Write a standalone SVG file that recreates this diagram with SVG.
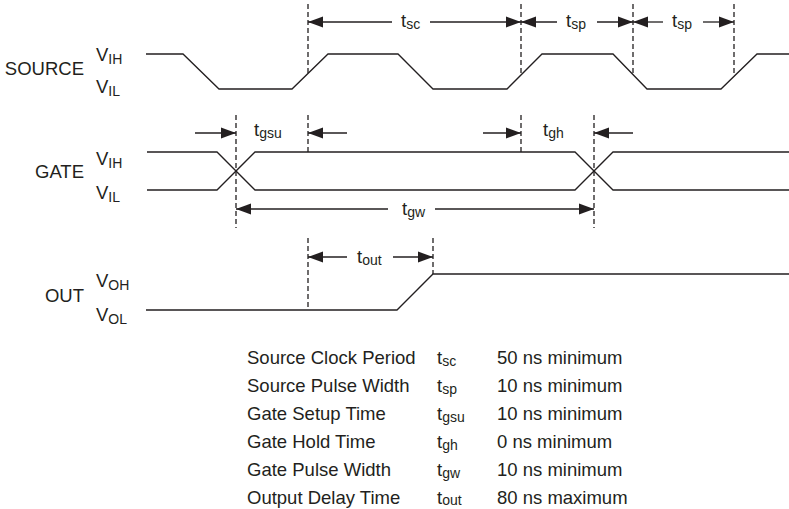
<svg xmlns="http://www.w3.org/2000/svg" width="789" height="509" viewBox="0 0 789 509">
<style>
.w{fill:none;stroke:#231f20;stroke-width:1.3}
.d{fill:none;stroke:#231f20;stroke-width:1.3;stroke-dasharray:5,3}
.a{fill:none;stroke:#231f20;stroke-width:1.3;marker-end:url(#ah)}
text{font-family:"Liberation Sans",Arial,sans-serif;font-size:18.5px;fill:#231f20}
.s{font-size:14px}
.e{text-anchor:end}
</style>
<defs>
<marker id="ah" markerUnits="userSpaceOnUse" markerWidth="16" markerHeight="12" refX="15" refY="6" orient="auto">
<path d="M0,0.5 L15,6 L0,11.5 z" fill="#231f20"/>
</marker>
</defs>
<rect width="789" height="509" fill="#fff"/>
<g id="source">
<text class="e" x="84" y="75">SOURCE</text>
<text x="96" y="61">V<tspan class="s" dy="3">IH</tspan></text>
<text x="96" y="93">V<tspan class="s" dy="3">IL</tspan></text>
<path class="w" d="M146,54 H183 L219,89 H292 L328,54 H398 L433,89 H507 L542,54 H613 L647,89 H721 L757,54 H789"/>
</g>
<g id="gate">
<text class="e" x="84" y="178">GATE</text>
<text x="96" y="165">V<tspan class="s" dy="3">IH</tspan></text>
<text x="96" y="199">V<tspan class="s" dy="3">IL</tspan></text>
<path class="w" d="M147,152 H217 L255,190 H575 L613,152 H789"/>
<path class="w" d="M147,190 H217 L255,152 H575 L613,190 H789"/>
</g>
<g id="out">
<text class="e" x="84" y="302">OUT</text>
<text x="96" y="287">V<tspan class="s" dy="3">OH</tspan></text>
<text x="96" y="321">V<tspan class="s" dy="3">OL</tspan></text>
<path class="w" d="M146,310 H397 L433,274 H789"/>
</g>
<g id="connectors">
<path class="d" d="M308,4 V73"/>
<path class="d" d="M521,4 V75"/>
<path class="d" d="M633,4 V75"/>
<path class="d" d="M734,4 V76"/>
<path class="d" d="M236,115 V228"/>
<path class="d" d="M308,115 V152"/>
<path class="d" d="M521,115 V152"/>
<path class="d" d="M594,115 V228"/>
<path class="d" d="M308,238 V310"/>
<path class="d" d="M433,238 V274"/>
<path class="a" d="M392,22 H308"/>
<path class="a" d="M430,22 H521"/>
<path class="a" d="M557,22 H521"/>
<path class="a" d="M597,22 H633"/>
<path class="a" d="M663,22 H633"/>
<path class="a" d="M703,22 H734"/>
<path class="a" d="M195,133 H236"/>
<path class="a" d="M347,133 H308"/>
<path class="a" d="M483,133 H521"/>
<path class="a" d="M633,133 H594"/>
<path class="a" d="M388,209 H236"/>
<path class="a" d="M435,209 H594"/>
<path class="a" d="M347,257 H308"/>
<path class="a" d="M393,257 H433"/>
</g>
<g id="labels">
<text x="401" y="27">t<tspan class="s" dy="2">sc</tspan></text>
<text x="566" y="27">t<tspan class="s" dy="2">sp</tspan></text>
<text x="672" y="27">t<tspan class="s" dy="2">sp</tspan></text>
<text x="254" y="136">t<tspan class="s" dy="2">gsu</tspan></text>
<text x="543" y="136">t<tspan class="s" dy="2">gh</tspan></text>
<text x="402" y="215">t<tspan class="s" dy="2">gw</tspan></text>
<text x="357" y="263">t<tspan class="s" dy="2">out</tspan></text>
</g>
<g id="table">
<text x="247" y="364">Source Clock Period</text>
<text x="247" y="392">Source Pulse Width</text>
<text x="247" y="420">Gate Setup Time</text>
<text x="247" y="448">Gate Hold Time</text>
<text x="247" y="476">Gate Pulse Width</text>
<text x="247" y="504">Output Delay Time</text>
<text x="437" y="364">t<tspan class="s" dy="2">sc</tspan></text>
<text x="437" y="392">t<tspan class="s" dy="2">sp</tspan></text>
<text x="437" y="420">t<tspan class="s" dy="2">gsu</tspan></text>
<text x="437" y="448">t<tspan class="s" dy="2">gh</tspan></text>
<text x="437" y="476">t<tspan class="s" dy="2">gw</tspan></text>
<text x="437" y="504">t<tspan class="s" dy="1">out</tspan></text>
<text x="497" y="364">50 ns minimum</text>
<text x="497" y="392">10 ns minimum</text>
<text x="497" y="420">10 ns minimum</text>
<text x="497" y="448">0 ns minimum</text>
<text x="497" y="476">10 ns minimum</text>
<text x="497" y="504">80 ns maximum</text>
</g>
</svg>
